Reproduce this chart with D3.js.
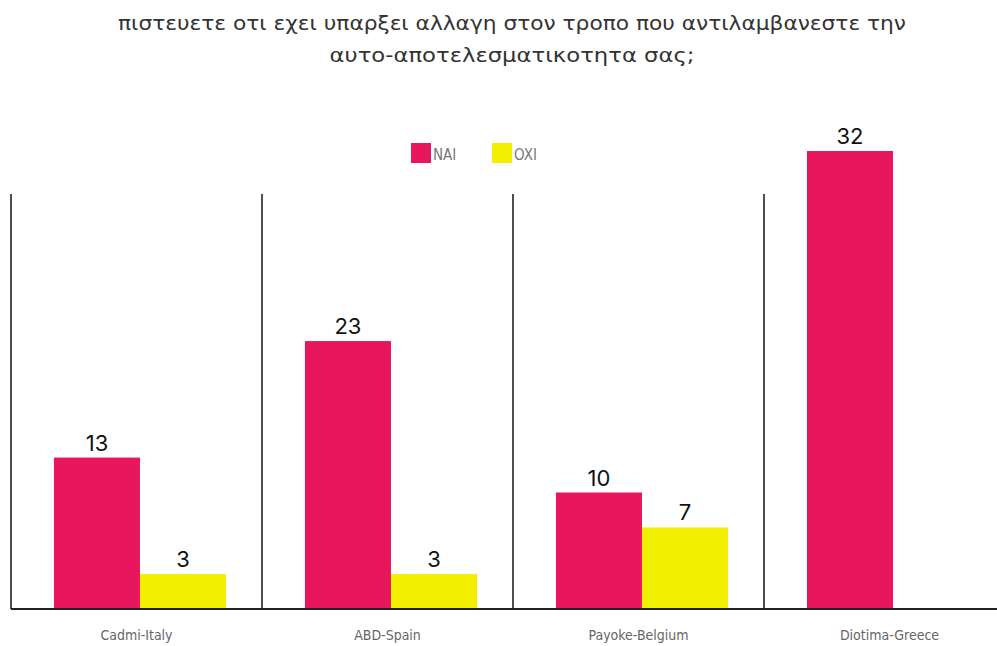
<!DOCTYPE html>
<html>
<head>
<meta charset="utf-8">
<script src="https://cdn.jsdelivr.net/npm/d3@7"></script>
<style>
  body { margin: 0; background: #fff; }
  svg { display: block; }
</style>
</head>
<body>
<svg id="chart" width="997" height="646"></svg>
<script>
// data
let categories = ['Cadmi-Italy', 'ABD-Spain', 'Payoke-Belgium', 'Diotima-Greece'];
let seriesNames = ['NAI', 'OXI'];
let naiValues = [13, 23, 10, 32];
let oxiValues = [3, 3, 7, null];
let titleLines = ['πιστευετε οτι εχει υπαρξει αλλαγη στον τροπο που αντιλαμβανεστε την',
                  'αυτο-αποτελεσματικοτητα σας;'];

let colors = {NAI: '#e8175d', OXI: '#f3ef00'};

function main() {
  let svg = d3.select('#chart');
  let baseY = 609, topY = 150;

  let x = d3.scaleBand().domain(categories).range([11, 1015]).padding(0);
  let xs = d3.scaleBand().domain(seriesNames).range([0, x.bandwidth()])
    .paddingInner(0).paddingOuter(0.459).align(0.544);

  // each panel is its own little chart, the last one is scaled on its own
  let yShared = d3.scaleLinear().domain([0, 39.4]).range([baseY, topY]);
  let yLast = d3.scaleLinear().domain([0, 32]).range([baseY, topY + 1]);
  let yFor = i => (i === categories.length - 1 ? yLast : yShared);

  // title
  svg.selectAll('text.title')
    .data(titleLines)
    .join('text')
    .attr('class', 'title')
    .attr('x', 512)
    .attr('y', (d, i) => 30 + i * 32)
    .attr('text-anchor', 'middle')
    .attr('font-family', '"DejaVu Sans Condensed", "Open Sans", sans-serif')
    .attr('font-size', 20)
    .attr('fill', '#333')
    .attr('textLength', (d, i) => i === 0 ? 788 : 365)
    .attr('lengthAdjust', 'spacingAndGlyphs')
    .text(d => d);

  // legend
  let legend = svg.append('g');
  let legX = [411, 492];
  seriesNames.forEach(function(s, i) {
    legend.append('rect')
      .attr('x', legX[i]).attr('y', 143)
      .attr('width', 20).attr('height', 20)
      .attr('fill', colors[s]);
    legend.append('text')
      .attr('x', legX[i] + 22).attr('y', 159.5)
      .attr('font-family', '"DejaVu Sans Condensed", sans-serif')
      .attr('font-size', 15)
      .attr('fill', '#777')
      .text(s);
  });

  // bars
  let rows = [];
  categories.forEach(function(c, i) {
    [naiValues[i], oxiValues[i]].forEach(function(v, j) {
      if (v != null) rows.push({cat: c, idx: i, series: seriesNames[j], value: v});
    });
  });

  svg.selectAll('rect.bar')
    .data(rows)
    .join('rect')
    .attr('class', 'bar')
    .attr('x', d => x(d.cat) + xs(d.series))
    .attr('width', xs.bandwidth())
    .attr('y', d => yFor(d.idx)(d.value))
    .attr('height', d => baseY - yFor(d.idx)(d.value))
    .attr('fill', d => colors[d.series]);

  svg.selectAll('text.val')
    .data(rows)
    .join('text')
    .attr('class', 'val')
    .attr('x', d => x(d.cat) + xs(d.series) + xs.bandwidth() / 2)
    .attr('y', d => yFor(d.idx)(d.value) - 7)
    .attr('text-anchor', 'middle')
    .attr('font-family', 'Inter, "Noto Sans", sans-serif')
    .attr('font-size', 22)
    .attr('fill', '#111')
    .text(d => d.value);

  // separators and baseline
  svg.selectAll('line.sep')
    .data(categories)
    .join('line')
    .attr('class', 'sep')
    .attr('x1', d => x(d)).attr('x2', d => x(d))
    .attr('y1', 194).attr('y2', baseY)
    .attr('stroke', '#222').attr('stroke-width', 1.6);

  svg.append('line')
    .attr('x1', 11).attr('x2', 997)
    .attr('y1', baseY).attr('y2', baseY)
    .attr('stroke', '#222').attr('stroke-width', 2);

  // category labels
  svg.selectAll('text.cat')
    .data(categories)
    .join('text')
    .attr('class', 'cat')
    .attr('x', d => x(d) + x.bandwidth() / 2)
    .attr('y', 640)
    .attr('text-anchor', 'middle')
    .attr('font-family', '"DejaVu Sans Condensed", "Open Sans", sans-serif')
    .attr('font-size', 14)
    .attr('fill', '#666')
    .text(d => d);
}

main();
</script>
</body>
</html>
